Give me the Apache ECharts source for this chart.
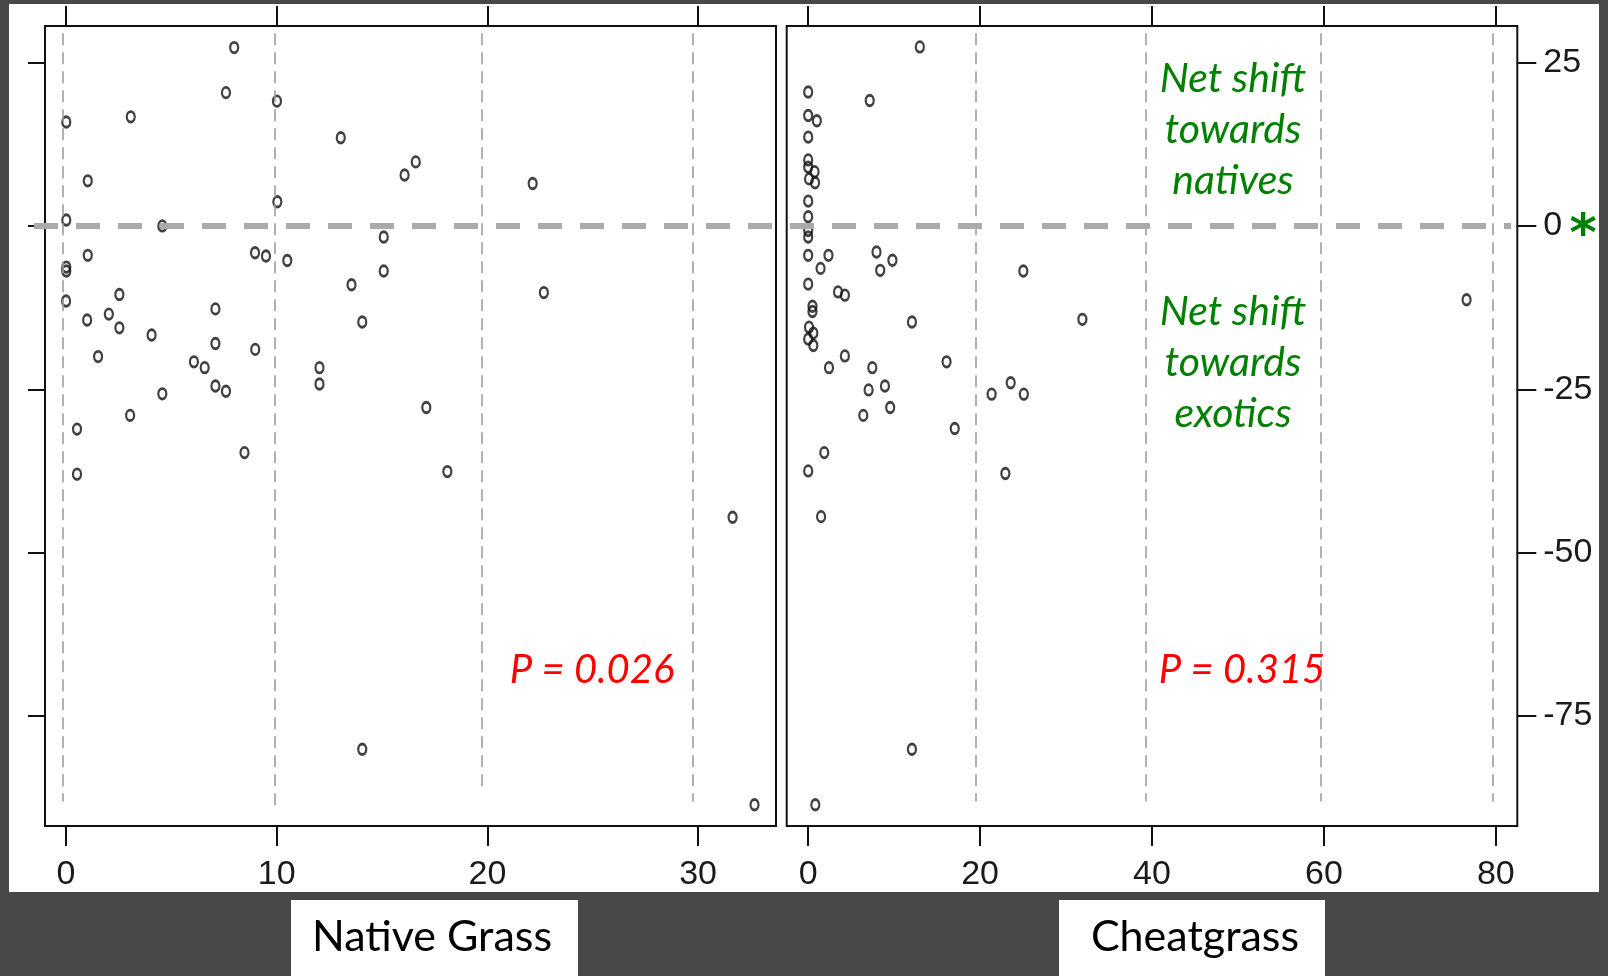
<!DOCTYPE html>
<html><head><meta charset="utf-8">
<script src="https://cdn.jsdelivr.net/npm/echarts@6/dist/echarts.min.js"></script>
<style>html,body{margin:0;padding:0;background:#484848;}#c{width:1608px;height:976px;}</style>
</head><body><div id="c"></div>
<script>
// ---- data ----
const nativeGrass = [[7.98,27.3],[7.59,20.4],[10.01,19.1],[3.07,16.7],[0.01,15.9],[13.04,13.5],[16.6,9.8],[16.07,7.8],[1.03,6.9],[22.15,6.5],[10.03,3.7],[0.01,0.9],[4.57,0.0],[15.08,-1.7],[1.03,-4.5],[8.97,-4.1],[9.49,-4.6],[10.5,-5.3],[0.01,-6.3],[0.01,-6.9],[15.08,-6.9],[13.55,-9.0],[22.68,-10.2],[2.53,-10.5],[0.0,-11.5],[7.09,-12.7],[2.03,-13.5],[1.0,-14.4],[14.06,-14.7],[2.53,-15.6],[4.06,-16.7],[7.09,-18.0],[8.98,-18.9],[1.52,-20.0],[6.07,-20.8],[6.58,-21.7],[12.03,-21.7],[12.03,-24.2],[7.09,-24.5],[7.59,-25.3],[4.57,-25.7],[17.1,-27.8],[3.04,-29.0],[0.52,-31.1],[8.47,-34.7],[18.1,-37.6],[0.52,-38.0],[31.64,-44.6],[14.06,-80.1],[32.68,-88.6]];
const cheatgrass = [[12.99,27.4],[0,20.5],[7.16,19.2],[0,16.9],[1.01,16.1],[0,13.6],[0,10.1],[0,9.0],[0.74,8.3],[0.1,7.2],[0.8,6.6],[0,3.8],[0,1.4],[0,-0.7],[0,-1.7],[0,-4.5],[2.36,-4.5],[1.44,-6.5],[7.95,-4.0],[9.8,-5.25],[8.38,-6.8],[25.03,-6.9],[0,-8.9],[3.47,-10.1],[4.27,-10.6],[76.6,-11.3],[0.5,-12.3],[0.5,-13.1],[12.07,-14.7],[31.9,-14.3],[0.1,-15.5],[0.6,-16.4],[0,-17.3],[0.6,-18.3],[4.27,-19.9],[2.42,-21.7],[7.46,-21.7],[16.1,-20.8],[7.03,-25.1],[8.93,-24.5],[9.54,-27.8],[6.41,-29.0],[17.05,-31.0],[21.34,-25.75],[23.56,-24.0],[25.09,-25.75],[1.87,-34.7],[0,-37.5],[22.94,-37.9],[1.5,-44.5],[12.07,-80.1],[0.83,-88.6]];

const nativeTicks = [0, 10, 20, 30];
const cheatTicks = [0, 20, 40, 60, 80];
const yTicks = [-75, -50, -25, 0, 25];
const nativeRange = [-1, 33.7];
const cheatRange = [-2.5, 82.5];
const yRange = [-91.85, 30.6];

const nativeGuides = [-0.15, 9.9, 19.75, 29.75];
const nativeGuideBottoms = [-88.1, -89.1, -85.8, -88.1];
const cheatGuides = [19.5, 39.3, 59.6, 79.7];
const cheatGuideBottoms = [-88.1, -88.1, -88.1, -88.1];
const guideTop = 29.5;
const referenceY = 0;

const panelTitles = ['Native Grass', 'Cheatgrass'];
const pValueTexts = ['P = 0.026', 'P = 0.315'];
const shiftTexts = ['Net shift\ntowards\nnatives', 'Net shift\ntowards\nexotics'];
const significanceMark = '*';

// ---- chart ----
const chart = echarts.init(document.getElementById('c'), null, {renderer: 'canvas'});
const tickColor = '#111';
const labelFont = {fontFamily: '"Liberation Sans Narrow","Liberation Sans",Arial,sans-serif', fontSize: 34, color: '#1a1a1a'};

function xAx(grid, range, ticks, pos, showLabel) {
  return {
    type: 'value', gridIndex: grid, position: pos, min: range[0], max: range[1],
    axisLine: {show: false, onZero: false}, splitLine: {show: false},
    axisTick: {show: true, customValues: ticks, length: 20, lineStyle: {color: tickColor, width: 2}},
    axisLabel: showLabel ? Object.assign({show: true, customValues: ticks, margin: 32}, labelFont) : {show: false}
  };
}
function guideLines(xs, bottoms) {
  return xs.map((x, i) => [{coord: [x, guideTop]}, {coord: [x, bottoms[i]]}]);
}
const guideStyle = {type: [12, 7], color: '#9e9e9e', width: 1.6};
const pointStyle = {color: 'rgba(0,0,0,0)', borderColor: '#111', borderWidth: 2.5};
const pointSize = [8, 10.5];

const option = {
  animation: false,
  backgroundColor: '#484848',
  grid: [
    {left: 45, top: 26, width: 731, height: 800, show: true, borderColor: '#111', borderWidth: 2, backgroundColor: 'rgba(0,0,0,0)'},
    {left: 786.7, top: 26, width: 730.6, height: 800, show: true, borderColor: '#111', borderWidth: 2, backgroundColor: 'rgba(0,0,0,0)'},
    {left: 34, top: 26, width: 1477, height: 800}
  ],
  xAxis: [
    xAx(0, nativeRange, nativeTicks, 'bottom', true),
    xAx(0, nativeRange, nativeTicks, 'top', false),
    xAx(1, cheatRange, cheatTicks, 'bottom', true),
    xAx(1, cheatRange, cheatTicks, 'top', false),
    {type: 'value', gridIndex: 2, min: 0, max: 1, show: false}
  ],
  yAxis: [
    {type: 'value', gridIndex: 0, position: 'left', min: yRange[0], max: yRange[1],
     axisLine: {show: false, onZero: false}, splitLine: {show: false},
     axisTick: {show: true, customValues: yTicks, length: 17, lineStyle: {color: tickColor, width: 2}},
     axisLabel: {show: false}},
    {type: 'value', gridIndex: 1, position: 'right', min: yRange[0], max: yRange[1],
     axisLine: {show: false, onZero: false}, splitLine: {show: false},
     axisTick: {show: true, customValues: yTicks, length: 19, lineStyle: {color: tickColor, width: 2}},
     axisLabel: Object.assign({show: true, customValues: yTicks, margin: 26}, labelFont)},
    {type: 'value', gridIndex: 2, min: yRange[0], max: yRange[1], show: false}
  ],
  series: [
    {type: 'line', xAxisIndex: 0, yAxisIndex: 0, data: [], z: 1,
     markLine: {silent: true, symbol: ['none', 'none'], label: {show: false}, lineStyle: guideStyle, data: guideLines(nativeGuides, nativeGuideBottoms)}},
    {type: 'line', xAxisIndex: 2, yAxisIndex: 1, data: [], z: 1,
     markLine: {silent: true, symbol: ['none', 'none'], label: {show: false}, lineStyle: guideStyle, data: guideLines(cheatGuides, cheatGuideBottoms)}},
    {type: 'scatter', xAxisIndex: 0, yAxisIndex: 0, data: nativeGrass, symbol: 'circle', symbolSize: pointSize, itemStyle: pointStyle, z: 3},
    {type: 'scatter', xAxisIndex: 2, yAxisIndex: 1, data: cheatgrass, symbol: 'circle', symbolSize: pointSize, itemStyle: pointStyle, z: 3},
    {type: 'line', xAxisIndex: 4, yAxisIndex: 2, data: [], z: 6,
     markLine: {silent: true, symbol: ['none', 'none'], label: {show: false},
       lineStyle: {type: [24, 18], color: '#aaaaaa', width: 6}, data: [{yAxis: referenceY}]}}
  ],
  graphic: [
    {type: 'rect', z: -100, shape: {x: 9, y: 4, width: 1590, height: 888}, style: {fill: '#ffffff'}},
    {type: 'rect', z: 5, shape: {x: 1128, y: 43, width: 212, height: 176}, style: {fill: '#ffffff'}},
    {type: 'rect', z: 5, shape: {x: 1128, y: 277, width: 212, height: 176}, style: {fill: '#ffffff'}},
    {type: 'text', z: 7, style: {text: shiftTexts[0], x: 1233, y: 130, align: 'center', verticalAlign: 'middle', font: 'italic 41px Lato, "Open Sans", sans-serif', lineHeight: 51, fill: '#008000'}},
    {type: 'text', z: 7, style: {text: shiftTexts[1], x: 1233, y: 363, align: 'center', verticalAlign: 'middle', font: 'italic 41px Lato, "Open Sans", sans-serif', lineHeight: 51, fill: '#008000'}},
    {type: 'text', z: 7, style: {text: pValueTexts[0], x: 592, y: 670, align: 'center', verticalAlign: 'middle', font: 'italic 40px Lato, "Open Sans", sans-serif', fill: '#ff0000'}},
    {type: 'text', z: 7, style: {text: pValueTexts[1], x: 1242, y: 670, align: 'center', verticalAlign: 'middle', font: 'italic 40px Lato, "Open Sans", sans-serif', fill: '#ff0000'}},
    {type: 'text', z: 7, style: {text: significanceMark, x: 1583, y: 236, align: 'center', verticalAlign: 'middle', font: 'bold 52px "DejaVu Sans", sans-serif', fill: '#008000'}},
    {type: 'rect', z: 5, shape: {x: 291, y: 900, width: 287, height: 76}, style: {fill: '#ffffff'}},
    {type: 'rect', z: 5, shape: {x: 1059, y: 900, width: 266, height: 76}, style: {fill: '#ffffff'}},
    {type: 'text', z: 7, style: {text: panelTitles[0], x: 432, y: 937, align: 'center', verticalAlign: 'middle', font: '43px Lato, "Open Sans", sans-serif', fill: '#000000'}},
    {type: 'text', z: 7, style: {text: panelTitles[1], x: 1195, y: 937, align: 'center', verticalAlign: 'middle', font: '43px Lato, "Open Sans", sans-serif', fill: '#000000'}}
  ]
};
chart.setOption(option);
</script>
</body></html>
